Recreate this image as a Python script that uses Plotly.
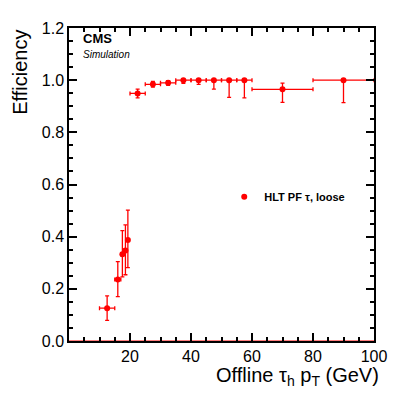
import plotly.graph_objects as go

# Efficiency points (offline tau_h pT bins)
pt = [12.5, 16.0, 17.5, 18.5, 19.3, 22.5, 27.5, 32.5, 37.5, 42.5, 47.5, 52.5, 57.5, 70.0, 90.0]
pt_err = [2.5, 1.0, 0.5, 0.5, 0.5, 2.5, 2.5, 2.5, 2.5, 2.5, 2.5, 2.5, 2.5, 10.0, 10.0]
eff = [0.126, 0.236, 0.333, 0.347, 0.387, 0.949, 0.984, 0.990, 1.000, 1.000, 1.000, 1.000, 1.000, 0.965, 1.000]
eff_up = [0.047, 0.068, 0.090, 0.098, 0.115, 0.017, 0.011, 0.008, 0.0, 0.0, 0.0, 0.0, 0.0, 0.024, 0.0]
eff_down = [0.047, 0.066, 0.087, 0.093, 0.106, 0.017, 0.011, 0.010, 0.012, 0.016, 0.034, 0.066, 0.068, 0.050, 0.086]

# zero-efficiency line along the bottom of the frame
base_pt = [0, 100]
base_eff = [0, 0]

x_ticks = [20, 40, 60, 80, 100]
y_ticks = [0.0, 0.2, 0.4, 0.6, 0.8, 1.0, 1.2]

font = "Liberation Sans, Arial, sans-serif"

fig = go.Figure()
fig.add_trace(go.Scatter(
    x=base_pt, y=base_eff, mode="lines",
    line=dict(color="red", width=1.2),
    cliponaxis=False, showlegend=False, hoverinfo="skip",
))
fig.add_trace(go.Scatter(
    x=pt, y=eff, mode="markers",
    marker=dict(color="red", size=6),
    error_x=dict(type="data", array=pt_err, color="red", thickness=1.3, width=2),
    error_y=dict(type="data", symmetric=False, array=eff_up, arrayminus=eff_down,
                 color="red", thickness=1.3, width=2),
    name="<b>HLT PF τ, loose</b>",
))

axis_style = dict(
    showline=True, linecolor="black", linewidth=1.5, mirror="ticks",
    ticks="inside", ticklen=8, tickwidth=1.5, tickcolor="black",
    showgrid=False, zeroline=False,
    tickfont=dict(family=font, size=16, color="black"),
)

fig.update_xaxes(range=[0, 100], tickvals=x_ticks, ticklabeloverflow="allow",
                 minor=dict(ticks="inside", ticklen=4, tickwidth=1.5, dtick=5, tick0=0, tickcolor="black"),
                 **axis_style)
fig.update_yaxes(range=[0, 1.2], tickvals=y_ticks, tickformat=".1f",
                 minor=dict(ticks="inside", ticklen=4, tickwidth=1.5, dtick=0.05, tick0=0, tickcolor="black"),
                 **axis_style)

# the page body adds an 8px margin, so the figure is sized to fit inside it
fig.update_layout(
    width=391, height=385,
    margin=dict(l=61, r=14, t=12, b=52),
    plot_bgcolor="white", paper_bgcolor="white",
    font=dict(family=font, color="black"),
    showlegend=True,
    legend=dict(x=0.509, y=0.461, xanchor="left", yanchor="middle",
                bgcolor="rgba(0,0,0,0)", font=dict(size=11, family=font)),
    annotations=[
        dict(text="<b>CMS</b>", x=0.04, y=0.967, xref="paper", yref="paper",
             xanchor="left", yanchor="middle", showarrow=False, font=dict(size=13)),
        dict(text="<i>Simulation</i>", x=0.04, y=0.916, xref="paper", yref="paper",
             xanchor="left", yanchor="middle", showarrow=False, font=dict(size=10)),
        dict(text="Efficiency", x=-0.163, y=1.0, xref="paper", yref="paper",
             xanchor="center", yanchor="top", textangle=-90, showarrow=False, font=dict(size=20)),
        dict(text="Offline τ<sub>h</sub> p<sub>T</sub> (GeV)", x=1.022, y=-0.068, xref="paper", yref="paper",
             xanchor="right", yanchor="top", showarrow=False, font=dict(size=20)),
    ],
)

fig.write_html("out.html")
